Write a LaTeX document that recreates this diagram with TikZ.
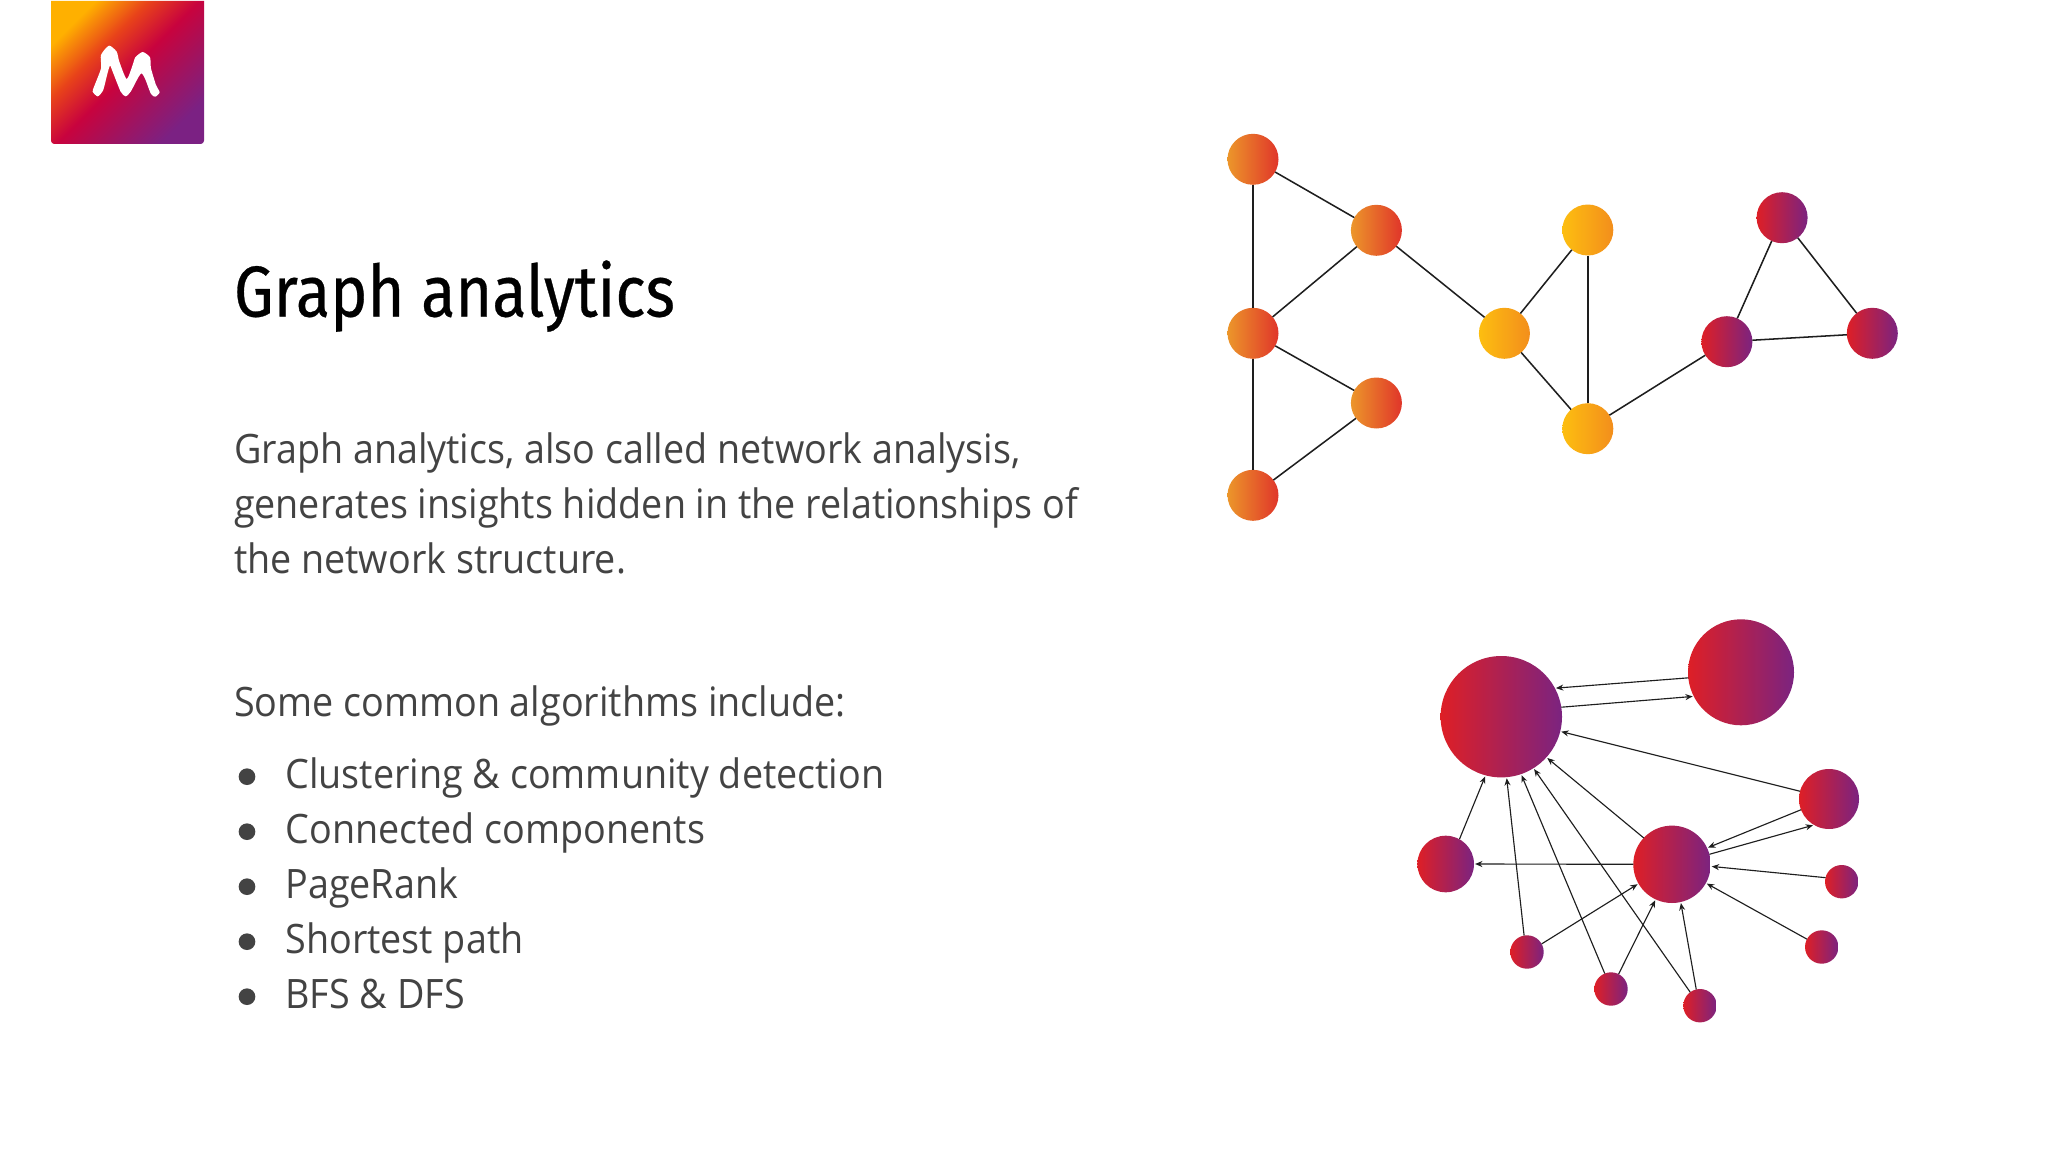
\documentclass[tikz,border=0pt]{standalone}
\usepackage{fontspec}
\usetikzlibrary{arrows.meta}
\setmainfont[FakeStretch=0.93]{Open Sans}
\newfontfamily\titlefont[FakeStretch=0.875,FakeBold=0.4]{Fira Sans}
\definecolor{txt}{HTML}{434343}
\definecolor{edgec}{HTML}{1E1E1E}
\definecolor{lgA}{HTML}{7B2183}
\definecolor{lgB}{HTML}{A81058}
\definecolor{lgC}{HTML}{C8033E}
\definecolor{lgD}{HTML}{E8421A}
\definecolor{lgE}{HTML}{FFB000}
\definecolor{oL}{HTML}{EC962A}
\definecolor{oR}{HTML}{E0352A}
\definecolor{yL}{HTML}{FDBE10}
\definecolor{yR}{HTML}{F38E1C}
\definecolor{pL}{HTML}{DE1F26}
\definecolor{pR}{HTML}{7B2380}
\pgfdeclareverticalshading{logograd}{100bp}{
  color(0bp)=(lgA); color(25bp)=(lgA); color(40bp)=(lgB); color(50bp)=(lgC);
  color(62bp)=(lgD); color(75bp)=(lgE); color(100bp)=(lgE)}
\tikzset{
  dot/.style={circle,inner sep=0pt,outer sep=0pt,minimum size=#1*1.5pt},
  oN/.style={dot=25.5,left color=oL,right color=oR},
  yN/.style={dot=25.5,left color=yL,right color=yR},
  pN/.style={dot=25.5,left color=pL,right color=pR},
  lN/.style={dot=#1,left color=pL,right color=pR},
  plain/.style={draw=edgec,line width=1.15pt},
  arr/.style={draw=edgec,line width=0.85pt,-{Stealth[length=5.5pt,width=4.5pt]},shorten >=0.8pt},
  body/.style={anchor=base west,inner sep=0pt,outer sep=0pt,text=txt,font=\fontsize{30.4pt}{36pt}\selectfont},
  titlestyle/.style={anchor=base west,inner sep=0pt,outer sep=0pt,text=black,font=\titlefont\fontsize{54pt}{60pt}\selectfont},
  bulletdot/.style={circle,fill=txt,inner sep=0pt,outer sep=0pt,minimum size=12.5pt},
}
\begin{document}
\begin{tikzpicture}[x=0.75pt,y=-0.75pt]
\useasboundingbox (0,0) rectangle (2048,1152);
\fill[white] (0,0) rectangle (2048,1152);
% logo
\path[shade,shading=logograd,shading angle=45] (51,1) -- (204,1) [rounded corners=2.5pt] -- (204,144) -- (51,144) [sharp corners] -- cycle;
\begin{scope}[x=0.25pt,y=-0.25pt]
\fill[white] plot[smooth cycle,tension=0.4] coordinates {
 (278,275) (293,289) (309,272) (322,222) (330,197) (338,215) (362,275) (377,289) (392,275) (415,232) (425,220)
 (436,238) (453,282) (466,290) (479,277) (468,255) (453,205) (450,172) (428,156) (406,172) (398,195) (380,237)
 (358,185) (350,155) (327,137) (303,165) (303,205) (283,258)};
\end{scope}
% title and text
\node[titlestyle] (title) at (234,316.5) {Graph analytics};
\node[body] (p1) at (234,463.7) {Graph analytics, also called network analysis,};
\node[body] (p2) at (234,518.5) {generates insights hidden in the relationships of};
\node[body] (p3) at (234,573) {the network structure.};
\node[body] (p4) at (234,716.9) {Some common algorithms include:};
\foreach \nm/\yy/\tx in {a/788.9/Clustering \& community detection,b/843.9/Connected components,c/898.9/PageRank,d/953.9/Shortest path,e/1008.9/BFS \& DFS}{
  \node[body] (li\nm) at (285.5,\yy) {\tx};
  \node[bulletdot] (bu\nm) at (247,\yy-12.2) {};
}
% upper graph
\node[oN] (n1) at (1253,159.3) {};
\node[oN] (n2) at (1376.4,230.3) {};
\node[oN] (n3) at (1253,333.3) {};
\node[oN] (n4) at (1376.4,403) {};
\node[oN] (n5) at (1253,495.3) {};
\node[yN] (n6) at (1504.4,333.3) {};
\node[yN] (n7) at (1587.8,230) {};
\node[yN] (n8) at (1587.8,428.7) {};
\node[pN] (n9) at (1726.9,341.7) {};
\node[pN] (n10) at (1782.1,217.7) {};
\node[pN] (n11) at (1872.3,333.3) {};
\foreach \a/\b in {n1/n2,n1/n3,n2/n3,n3/n4,n3/n5,n4/n5,n2/n6,n6/n7,n6/n8,n7/n8,n8/n9,n9/n10,n9/n11,n10/n11}
  \draw[plain] (\a) -- (\b);
% lower graph
\node[lN=60.7] (A) at (1501.3,716.7) {};
\node[lN=53] (B) at (1741,672.3) {};
\node[lN=30] (C) at (1829,799) {};
\node[lN=38.7] (D) at (1672,864.3) {};
\node[lN=28.3] (E) at (1445.7,864) {};
\node[lN=16.7] (F) at (1841.7,881.7) {};
\node[lN=16.7] (G) at (1821.7,947) {};
\node[lN=16.7] (H) at (1527,952) {};
\node[lN=16.7] (I) at (1611,989) {};
\node[lN=16.7] (J) at (1700,1005.7) {};
\foreach \a/\aa/\b/\bb in {B/186.5/A/28.4, A/9.9/B/207.5, C/165.7/A/-14.6, C/201.4/D/25.1, D/15/C/240,
  F/166/D/-3.3, G/152/D/-29, J/103.8/D/-77.3, J/126/A/-58, I/112/A/-71.4, I/63/D/245.7,
  H/100.4/A/-85, H/29.5/D/210.7, E/61/A/255.8, D/137.8/A/-42, D/180/E/0}
  \draw[arr] (\a.\aa) -- (\b.\bb);
\end{tikzpicture}
\end{document}
